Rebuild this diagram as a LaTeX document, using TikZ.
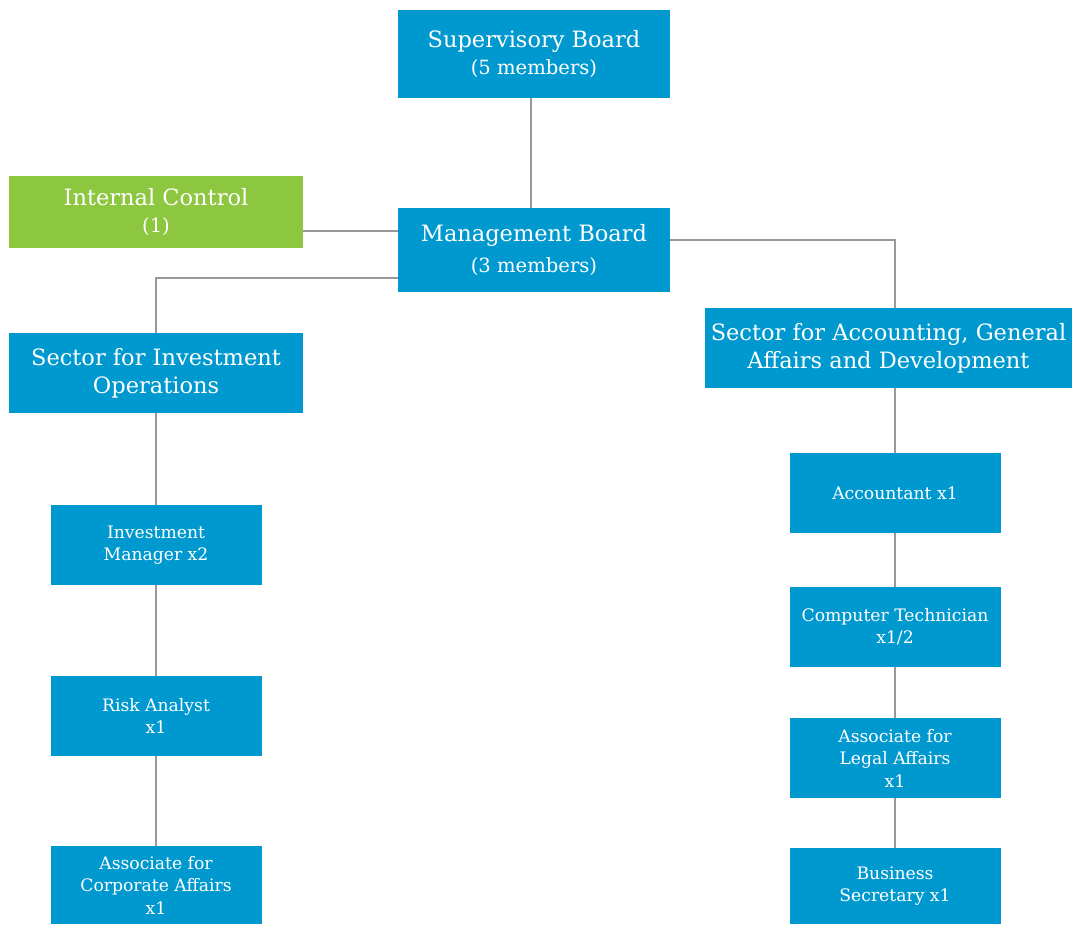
\documentclass[tikz,border=0pt]{standalone}
\usepackage{fontspec}
\setmainfont{DejaVu Serif}
\usepackage{tikz}
\usetikzlibrary{positioning}
\definecolor{unitblue}{HTML}{0099CF}
\definecolor{unitgreen}{HTML}{8DC63F}
\definecolor{linkgray}{HTML}{999999}
\tikzset{
  unit/.style={fill=unitblue,text=white,inner sep=0pt,align=center,font=\fontsize{22.5}{28}\selectfont},
  post/.style={unit,minimum width=211pt,minimum height=80pt,font=\fontsize{17.2}{22.5}\selectfont},
  link/.style={draw=linkgray,line width=1.4pt}
}
\newcommand{\subline}[1]{{\fontsize{19.6}{22}\selectfont #1}}
\begin{document}
\begin{tikzpicture}[x=1pt,y=-1pt]
  \useasboundingbox (0,0) rectangle (1073,925);
  % top of the chart
  \node[unit,minimum width=272pt,minimum height=88pt] (sup) at (534,54)
    {Supervisory Board\\[-1pt]\subline{(5 members)}};
  \node[unit,minimum width=272pt,minimum height=83pt] (mgmt) at (534,250)
    {Management Board\\[3pt]\subline{(3 members)}};
  \node[unit,fill=unitgreen,minimum width=294pt,minimum height=72pt] (ic) at (156,212)
    {Internal Control\\[-1pt]\subline{(1)}};
  % sectors
  \node[unit,minimum width=294pt,minimum height=80pt] (inv) at (156,373)
    {Sector for Investment\\Operations};
  \node[unit,minimum width=367pt,minimum height=80pt] (acc) at (888.5,348)
    {Sector for Accounting, General\\Affairs and Development};
  % left column
  \node[post] (im) at (156,545) {Investment\\Manager x2};
  \node[post] (ra) at (156,716) {Risk Analyst\\x1};
  \node[post,minimum height=78pt] (ca) at (156,885) {Associate for\\Corporate Affairs\\x1};
  % right column
  \node[post] (at) at (895,493) {Accountant x1};
  \node[post] (ct) at (895,627) {Computer Technician\\x1/2};
  \node[post] (la) at (895,758) {Associate for\\Legal Affairs\\x1};
  \node[post,minimum height=76pt] (bs) at (895,886) {Business\\Secretary x1};
  % connectors
  \draw[link] (sup.south -| 531,0) -- (mgmt.north -| 531,0);
  \draw[link] ([yshift=-19pt]ic.east) -- ([yshift=-19pt]ic.east -| mgmt.west);
  \draw[link] ([yshift=-28pt]mgmt.west) -| (inv.north);
  \draw[link] ([yshift=10pt]mgmt.east) -| (at.north |- acc.north);
  \draw[link] (acc.south -| at.north) -- (at.north);
  \foreach \a/\b in {at/ct,ct/la,la/bs,inv/im,im/ra,ra/ca}
    \draw[link] (\a.south -| \b.north) -- (\b.north);
\end{tikzpicture}
\end{document}
